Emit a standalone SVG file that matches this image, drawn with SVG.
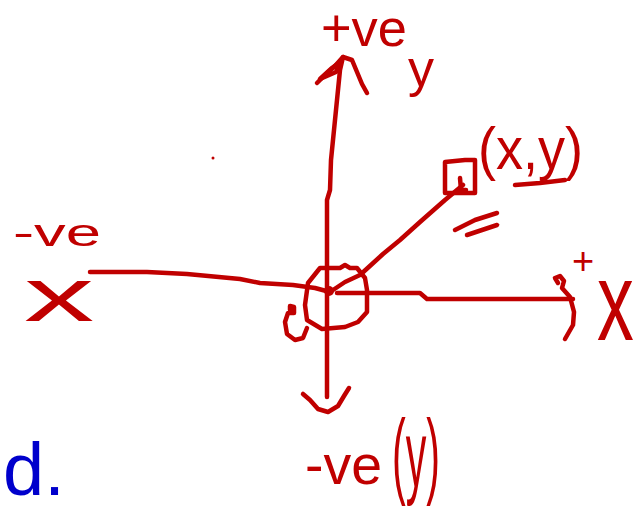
<svg xmlns="http://www.w3.org/2000/svg" width="636" height="511" viewBox="0 0 636 511">
<style>
.s{fill:none;stroke:#c00000;stroke-width:4.5;stroke-linecap:round;stroke-linejoin:round}
.t{fill:#c00000;font-family:"Liberation Sans",Arial,sans-serif}
.d{fill:#0000cc;font-family:"Liberation Sans",Arial,sans-serif}
</style>
<rect width="636" height="511" fill="#ffffff"/>
<g id="connectors">
  <path class="s" d="M327,397 L327,200 L330,190 L331,160 L334,130 L337,100 L340,70 L343,57"/>
  <path class="s" d="M317,83 L325,75 L335,66 L343,57 L352,60 L357,72 L362,84 L367,93"/>
  <path class="s" d="M320,79 L332,68 L340,62 L336,72 Z"/>
  <path class="s" d="M303,394 L310,400 L318,409 L328,412 L338,406 L344,396 L349,388"/>
  <path class="s" d="M90,272 L147,272 L187,274 L240,279 L260,283 L293,285 L315,288 L330,292"/>
  <path class="s" d="M337,293 L420,293 L427,299 L573,299"/>
  <path class="s" d="M558,283 L555,278 L560,276 L564,281 L562,288 L570,297 L574,312 L573,325 L565,339"/>
  <path class="s" d="M330,292 L345,282 L360,275 L383,254 L400,240 L420,222 L445,200 L463,185"/>
</g>
<g id="origin">
  <path class="s" d="M320,268 L340,268 L345,265 L350,268 L357,268 L365,278 L367,290 L367,312 L358,322 L345,327 L322,329 L307,320 L305,305 L308,283 Z"/>
  <path class="s" d="M290,310 L290,306 L294,307 L294,313 L288,313 L285,322 L287,334 L295,340 L303,338 L307,328"/>
  <circle cx="329" cy="291" r="5" fill="#c00000"/>
</g>
<g id="point">
  <path class="s" d="M445,162 L465,160 L475,160 L475,193 L445,193 Z"/>
  <path class="s" d="M460,178 L461,190 L466,190"/>
  <path class="s" d="M455,230 L475,220 L497,213"/>
  <path class="s" d="M467,235 L485,229 L497,225"/>
  <path class="s" d="M515,185 L540,183 L565,180"/>
  <text class="t" x="478" y="169" font-size="60" textLength="105" lengthAdjust="spacingAndGlyphs">(x,y)</text>
</g>
<g id="label-top">
  <text class="t" x="321" y="46" font-size="52" textLength="86" lengthAdjust="spacingAndGlyphs">+ve</text>
  <text class="t" x="408" y="86" font-size="52">y</text>
</g>
<g id="label-left">
  <text class="t" x="13" y="246" font-size="38" textLength="88" lengthAdjust="spacingAndGlyphs">-ve</text>
  <text class="t" font-size="52" transform="translate(24,321) scale(2.7,1.45)">x</text>
</g>
<g id="label-right">
  <text class="t" x="572" y="274" font-size="38">+</text>
  <text class="t" font-size="70" transform="translate(597,340) scale(1.05,1.6)">x</text>
</g>
<g id="label-bottom">
  <text class="t" x="305" y="484" font-size="55" textLength="77" lengthAdjust="spacingAndGlyphs">-ve</text>
  <text class="t" x="392" y="486" font-size="95" textLength="48" lengthAdjust="spacingAndGlyphs">(y)</text>
</g>
<circle cx="213" cy="158" r="1.5" fill="#c00000"/>
<g id="label-d">
  <text class="d" x="3" y="495" font-size="74">d.</text>
</g>
</svg>
